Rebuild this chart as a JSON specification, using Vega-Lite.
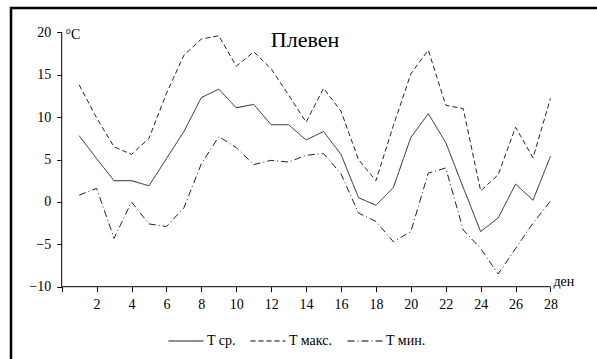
{
  "$schema": "https://vega.github.io/schema/vega-lite/v6.json",
  "width": 600,
  "height": 360,
  "autosize": {"type": "none"},
  "padding": {"left": 11, "top": 8, "right": 0, "bottom": 0},
  "background": "white",
  "config": {
    "view": {"stroke": "black", "strokeWidth": 2.5},
    "font": "Liberation Serif"
  },
  "title": {"text": "Плевен", "font": "Liberation Serif", "fontSize": 22, "fontWeight": "normal", "color": "black", "offset": -44, "dx": -6},
  "layer": [
    {
      "data": {"values": [{}]},
      "mark": {"type": "rule", "color": "black", "strokeWidth": 1},
      "encoding": {
        "x": {"datum": 0, "type": "quantitative"},
        "y": {"datum": -10, "type": "quantitative"},
        "y2": {"datum": 20}
      }
    },
    {
      "data": {"values": [{}]},
      "mark": {"type": "rule", "color": "black", "strokeWidth": 1},
      "encoding": {
        "x": {"datum": 0, "type": "quantitative"},
        "x2": {"datum": 28},
        "y": {"datum": -10, "type": "quantitative"}
      }
    },
    {
      "data": {"values": [
        {"day": 1, "s": "T ср.", "t": 7.8}, {"day": 2, "s": "T ср.", "t": 5.1}, {"day": 3, "s": "T ср.", "t": 2.5}, {"day": 4, "s": "T ср.", "t": 2.5},
        {"day": 5, "s": "T ср.", "t": 1.9}, {"day": 6, "s": "T ср.", "t": 5.1}, {"day": 7, "s": "T ср.", "t": 8.3}, {"day": 8, "s": "T ср.", "t": 12.3},
        {"day": 9, "s": "T ср.", "t": 13.3}, {"day": 10, "s": "T ср.", "t": 11.1}, {"day": 11, "s": "T ср.", "t": 11.5}, {"day": 12, "s": "T ср.", "t": 9.1},
        {"day": 13, "s": "T ср.", "t": 9.1}, {"day": 14, "s": "T ср.", "t": 7.3}, {"day": 15, "s": "T ср.", "t": 8.3}, {"day": 16, "s": "T ср.", "t": 5.6},
        {"day": 17, "s": "T ср.", "t": 0.5}, {"day": 18, "s": "T ср.", "t": -0.4}, {"day": 19, "s": "T ср.", "t": 1.7}, {"day": 20, "s": "T ср.", "t": 7.6},
        {"day": 21, "s": "T ср.", "t": 10.4}, {"day": 22, "s": "T ср.", "t": 7.0}, {"day": 23, "s": "T ср.", "t": 1.7}, {"day": 24, "s": "T ср.", "t": -3.5},
        {"day": 25, "s": "T ср.", "t": -1.9}, {"day": 26, "s": "T ср.", "t": 2.1}, {"day": 27, "s": "T ср.", "t": 0.2}, {"day": 28, "s": "T ср.", "t": 5.4},
        {"day": 1, "s": "T макс.", "t": 13.8}, {"day": 2, "s": "T макс.", "t": 9.9}, {"day": 3, "s": "T макс.", "t": 6.5}, {"day": 4, "s": "T макс.", "t": 5.6},
        {"day": 5, "s": "T макс.", "t": 7.5}, {"day": 6, "s": "T макс.", "t": 12.8}, {"day": 7, "s": "T макс.", "t": 17.3}, {"day": 8, "s": "T макс.", "t": 19.2},
        {"day": 9, "s": "T макс.", "t": 19.6}, {"day": 10, "s": "T макс.", "t": 16.0}, {"day": 11, "s": "T макс.", "t": 17.7}, {"day": 12, "s": "T макс.", "t": 15.7},
        {"day": 13, "s": "T макс.", "t": 12.6}, {"day": 14, "s": "T макс.", "t": 9.4}, {"day": 15, "s": "T макс.", "t": 13.4}, {"day": 16, "s": "T макс.", "t": 10.7},
        {"day": 17, "s": "T макс.", "t": 5.0}, {"day": 18, "s": "T макс.", "t": 2.5}, {"day": 19, "s": "T макс.", "t": 9.0}, {"day": 20, "s": "T макс.", "t": 15.1},
        {"day": 21, "s": "T макс.", "t": 17.9}, {"day": 22, "s": "T макс.", "t": 11.4}, {"day": 23, "s": "T макс.", "t": 11.0}, {"day": 24, "s": "T макс.", "t": 1.3},
        {"day": 25, "s": "T макс.", "t": 3.2}, {"day": 26, "s": "T макс.", "t": 8.8}, {"day": 27, "s": "T макс.", "t": 5.2}, {"day": 28, "s": "T макс.", "t": 12.2},
        {"day": 1, "s": "T мин.", "t": 0.8}, {"day": 2, "s": "T мин.", "t": 1.6}, {"day": 3, "s": "T мин.", "t": -4.3}, {"day": 4, "s": "T мин.", "t": 0.0},
        {"day": 5, "s": "T мин.", "t": -2.6}, {"day": 6, "s": "T мин.", "t": -2.9}, {"day": 7, "s": "T мин.", "t": -0.7}, {"day": 8, "s": "T мин.", "t": 4.5},
        {"day": 9, "s": "T мин.", "t": 7.7}, {"day": 10, "s": "T мин.", "t": 6.4}, {"day": 11, "s": "T мин.", "t": 4.4}, {"day": 12, "s": "T мин.", "t": 4.9},
        {"day": 13, "s": "T мин.", "t": 4.7}, {"day": 14, "s": "T мин.", "t": 5.5}, {"day": 15, "s": "T мин.", "t": 5.7}, {"day": 16, "s": "T мин.", "t": 3.3},
        {"day": 17, "s": "T мин.", "t": -1.3}, {"day": 18, "s": "T мин.", "t": -2.3}, {"day": 19, "s": "T мин.", "t": -4.7}, {"day": 20, "s": "T мин.", "t": -3.5},
        {"day": 21, "s": "T мин.", "t": 3.4}, {"day": 22, "s": "T мин.", "t": 4.0}, {"day": 23, "s": "T мин.", "t": -3.3}, {"day": 24, "s": "T мин.", "t": -5.5},
        {"day": 25, "s": "T мин.", "t": -8.5}, {"day": 26, "s": "T мин.", "t": -5.5}, {"day": 27, "s": "T мин.", "t": -2.5}, {"day": 28, "s": "T мин.", "t": 0.1}
      ]},
      "mark": {"type": "line", "color": "#222222", "strokeWidth": 1},
      "encoding": {
        "x": {
          "field": "day", "type": "quantitative",
          "scale": {"domain": [-2.904, 31.466], "nice": false, "zero": false},
          "axis": {
            "values": [0, 1, 2, 3, 4, 5, 6, 7, 8, 9, 10, 11, 12, 13, 14, 15, 16, 17, 18, 19, 20, 21, 22, 23, 24, 25, 26, 27, 28],
            "domain": false, "grid": false, "offset": -81.3,
            "tickSize": 5, "tickColor": "black", "tickWidth": 1,
            "labelExpr": "datum.value % 2 == 0 && datum.value > 0 ? datum.label : ''",
            "labelFont": "Liberation Serif", "labelFontSize": 14, "labelColor": "black", "labelPadding": 6,
            "labelFlush": false, "labelOverlap": false,
            "title": "ден", "titleFont": "Liberation Serif", "titleFontSize": 14, "titleFontWeight": "normal", "titleColor": "black",
            "titleX": 542, "titleY": -1, "titleAlign": "left", "titleBaseline": "alphabetic"
          }
        },
        "y": {
          "field": "t", "type": "quantitative",
          "scale": {"domain": [-19.587, 22.866], "nice": false, "zero": false},
          "axis": {
            "values": [-10, -5, 0, 5, 10, 15, 20],
            "domain": false, "grid": false, "offset": -50.7,
            "tickSize": 5, "tickColor": "black", "tickWidth": 1,
            "labelFont": "Liberation Serif", "labelFontSize": 14, "labelColor": "black", "labelPadding": 6,
            "labelFlush": false, "labelOverlap": false,
            "title": "°C", "titleFont": "Liberation Serif", "titleFontSize": 14, "titleFontWeight": "normal", "titleColor": "black",
            "titleAngle": 0, "titleX": 3.3, "titleY": 30, "titleAlign": "left", "titleBaseline": "alphabetic"
          }
        },
        "strokeDash": {
          "field": "s", "type": "nominal",
          "scale": {"domain": ["T ср.", "T макс.", "T мин."], "range": [[1, 0], [5, 3], [7, 3, 1, 3]]},
          "legend": {
            "orient": "none", "legendX": 157, "legendY": 315, "direction": "horizontal", "title": null,
            "symbolType": "stroke", "symbolSize": 1225, "symbolStrokeWidth": 1, "symbolStrokeColor": "black",
            "labelFont": "Liberation Serif", "labelFontSize": 14, "labelColor": "black", "labelOffset": 3, "columnPadding": 12
          }
        }
      }
    }
  ]
}
